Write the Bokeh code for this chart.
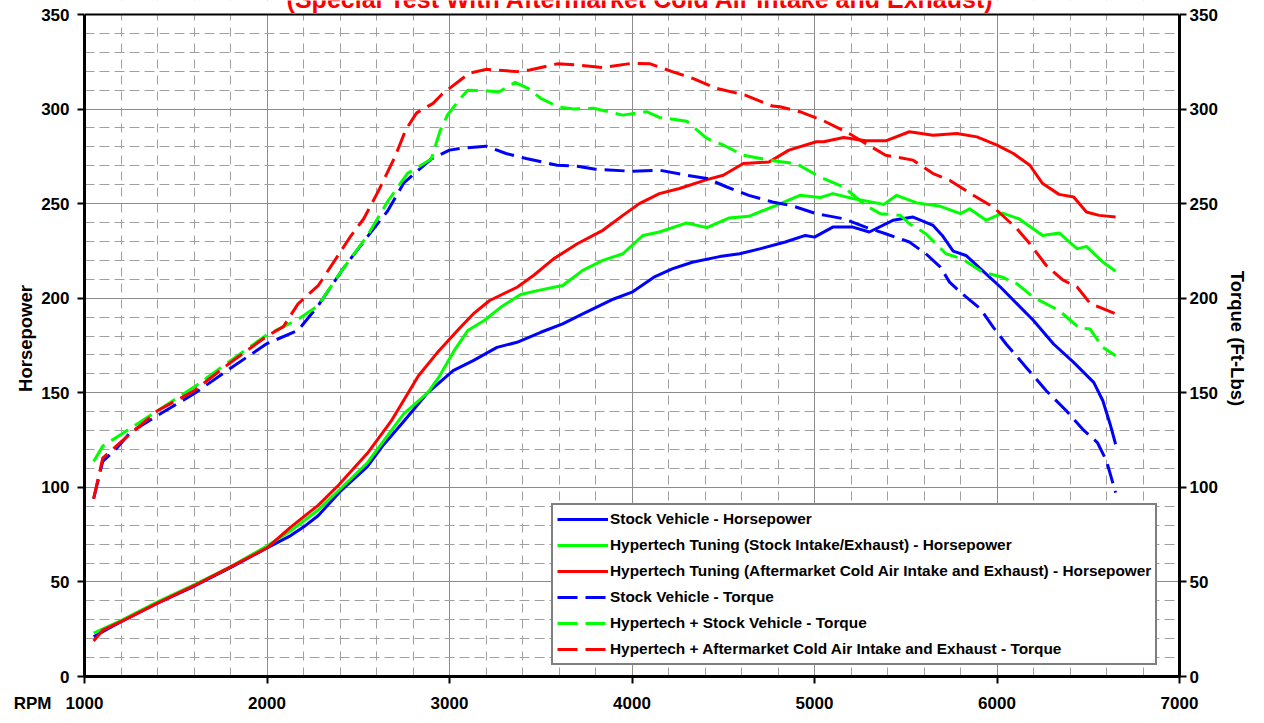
from bokeh.plotting import figure
from bokeh.models import (Range1d, LinearAxis, SingleIntervalTicker, Legend,
                          LegendItem, Label, BoxAnnotation, Span)
from bokeh.embed import file_html
from bokeh.resources import INLINE

# ---------------- data ----------------
stock_hp_rpm = [1050, 1200, 1400, 1600, 1800, 2000, 2130, 2200, 2280, 2400,
                2550, 2640, 2750, 2880, 3020, 3130, 3260, 3370, 3500, 3620,
                3730, 3900, 4000, 4120, 4220, 4330, 4480, 4590, 4700, 4840,
                4950, 5000, 5100, 5210, 5300, 5430, 5540, 5650, 5700, 5760,
                5830, 5940, 6020, 6110, 6200, 6310, 6420, 6530, 6580, 6620,
                6650]
stock_hp = [21, 29, 38.8, 47.7, 57.5, 68, 74.5, 79, 85, 97.7,
            111, 122.7, 135, 150, 161.7, 167, 174, 176.7, 182, 186.4,
            191.7, 199.6, 203.2, 211.1, 215.5, 219, 222, 223.5, 226.1, 229.7,
            233.2, 232.3, 237.6, 237.6, 235, 241.2, 242.9, 238.5, 233.2, 224.9,
            222.6, 212.9, 205.8, 197, 188.2, 175.8, 166.1, 155.5, 145.8, 133.4,
            122.8]

hyp_hp_rpm = [1050, 1200, 1400, 1600, 1800, 2000, 2130, 2280, 2400, 2550,
              2750, 2880, 2940, 3030, 3100, 3190, 3280, 3390, 3500, 3620,
              3730, 3840, 3950, 4060, 4150, 4300, 4410, 4530, 4640, 4790,
              4920, 5030, 5100, 5210, 5380, 5450, 5560, 5690, 5800, 5850,
              5940, 6030, 6120, 6250, 6340, 6440, 6490, 6580, 6650]
hyp_hp = [23, 29.5, 39.5, 48.5, 58, 69, 77, 88, 99, 113,
          139, 150, 158, 173, 182.9, 188.2, 195.2, 202, 204.4, 206.7,
          214.7, 220, 223.5, 233.2, 235, 239.8, 237.3, 242.4, 243.3, 249.1,
          254.4, 253.2, 255.3, 252.7, 249.6, 254.4, 250.4, 248.6, 244.7, 247.3,
          241.2, 245, 242, 233.2, 234.5, 226.1, 227.4, 219.1, 214.3]

cai_hp_rpm = [1050, 1100, 1200, 1400, 1600, 1800, 2000, 2130, 2280, 2390,
              2550, 2680, 2830, 2940, 3060, 3130, 3220, 3370, 3460, 3570,
              3700, 3840, 3950, 4040, 4150, 4260, 4410, 4500, 4610, 4750,
              4860, 5010, 5050, 5160, 5280, 5390, 5520, 5650, 5780, 5890,
              6000, 6090, 6180, 6250, 6340, 6420, 6490, 6560, 6650]
cai_hp = [18.8, 24.5, 29, 38.8, 48, 58, 68, 79, 90.5, 101,
          118, 135, 159, 172, 184.6, 191.7, 198.8, 205.8, 212, 220.8,
          228.8, 235.9, 243.8, 250, 255.3, 258, 262.7, 265, 271.2, 272,
          278.3, 282.7, 282.7, 285, 283.2, 283.2, 288, 286.2, 287.1, 285.3,
          280.9, 276.5, 270.3, 260.6, 254.9, 253.5, 245.6, 243.8, 242.9]

stock_tq_rpm = [1050, 1100, 1180, 1250, 1400, 1600, 1800, 2000, 2170, 2280,
                2420, 2550, 2660, 2750, 2900, 3000, 3060, 3200, 3310, 3420,
                3590, 3700, 3800, 4000, 4150, 4300, 4410, 4520, 4640, 4770,
                4880, 5010, 5060, 5160, 5280, 5390, 5520, 5610, 5690, 5740,
                5810, 5910, 5980, 6050, 6160, 6270, 6380, 6470, 6550, 6600,
                6650]
stock_tq = [94, 113.7, 121, 129, 138, 149.5, 163, 176, 183, 196,
            216, 232.5, 246, 261, 273.6, 278.3, 279.2, 280.4, 276.5, 273.9,
            270.3, 269.8, 268.2, 267.1, 267.7, 265, 263.3, 258.8, 254.4, 250.9,
            248.8, 244.7, 243.8, 242, 237.6, 234.1, 229.7, 223.5, 216.4, 208.5,
            202.3, 194.3, 184.6, 175.8, 163.4, 151.1, 140.5, 130.7, 123.7, 114,
            97.2]

hyp_tq_rpm = [1050, 1100, 1200, 1400, 1600, 1800, 2000, 2170, 2280, 2390,
              2550, 2660, 2770, 2900, 2950, 2990, 3060, 3100, 3200, 3270,
              3360, 3430, 3500, 3600, 3680, 3790, 3950, 4080, 4150, 4300,
              4410, 4500, 4610, 4750, 4900, 5030, 5160, 5280, 5360, 5470,
              5520, 5610, 5720, 5810, 5920, 6030, 6110, 6200, 6340, 6450,
              6510, 6580, 6650]
hyp_tq = [113.7, 121.8, 128, 140.5, 153, 167, 180.7, 188.8, 196, 212,
          233, 251, 266, 273.6, 288.9, 297, 305.6, 310, 309.7, 309,
          314.1, 311, 305.7, 301, 300, 300.4, 296.8, 298.6, 295.6, 293.6,
          284.5, 281, 275.6, 273, 271.2, 264.1, 258.8, 249.1, 244.7, 243.8,
          239.4, 234.1, 223.5, 220.8, 213.8, 211.1, 207.6, 200.5, 193.5, 184.3,
          183.7, 174, 169.6]

cai_tq_rpm = [1050, 1100, 1200, 1400, 1600, 1800, 2000, 2090, 2170, 2280,
              2390, 2460, 2530, 2610, 2700, 2760, 2820, 2910, 2960, 3060,
              3110, 3200, 3370, 3440, 3590, 3700, 3840, 4000, 4100, 4220,
              4330, 4460, 4620, 4770, 4810, 4920, 5050, 5190, 5280, 5390,
              5540, 5650, 5740, 5870, 5980, 6110, 6180, 6270, 6360, 6440,
              6510, 6650]
cai_tq = [94, 115.5, 124, 140.5, 151, 166, 180, 185, 197, 206.6,
          222.7, 233, 242, 256.6, 274.5, 289, 298, 303, 308, 315.4,
          319, 321, 319.8, 320.7, 323.9, 323.3, 321.9, 324.2, 323.9, 319.8,
          316.3, 311, 307.4, 301.6, 301.2, 298.6, 293.8, 287.1, 281.8, 275.6,
          273, 265.9, 262.4, 254.4, 248.2, 236.7, 228.8, 217.3, 209.7, 205.8,
          197.3, 191.7]

series_labels = [
    "Stock Vehicle - Horsepower",
    "Hypertech Tuning (Stock Intake/Exhaust) - Horsepower",
    "Hypertech Tuning (Aftermarket Cold Air Intake and Exhaust) - Horsepower",
    "Stock Vehicle - Torque",
    "Hypertech + Stock Vehicle - Torque",
    "Hypertech + Aftermarket Cold Air Intake and Exhaust - Torque",
]
title_text = "(Special Test With Aftermarket Cold Air Intake and Exhaust)"
x_label = "RPM"
y_label_left = "Horsepower"
y_label_right = "Torque (Ft-Lbs)"
x_min, x_max = 1000, 7000
y_min, y_max = 0, 350

# ---------------- figure ----------------
FONT = "Liberation Sans"
BLUE, GREEN, RED = "#0000FF", "#00FF00", "#FF0000"
TOP_PAD_PX = 14          # white band above the 350 line, where the title shows
FRAME_H = 676            # frame height in px (frame reaches the canvas top)
y_top = y_max + TOP_PAD_PX * (y_max - y_min) / (FRAME_H - TOP_PAD_PX)

p = figure(width=1256, height=715, output_backend="svg", toolbar_location=None,
           x_range=Range1d(x_min, x_max), y_range=Range1d(y_min, y_top),
           min_border_left=84, min_border_right=77, min_border_top=0,
           min_border_bottom=39)
p.background_fill_color = "white"
p.border_fill_color = "white"
p.outline_line_color = None

xt = SingleIntervalTicker(interval=1000, num_minor_ticks=5)
yt = SingleIntervalTicker(interval=50, num_minor_ticks=5)
p.xaxis.ticker = xt
p.yaxis.ticker = yt
p.xgrid.ticker = xt
p.ygrid.ticker = yt

for g, dash in ((p.xgrid, "9 7"), (p.ygrid, "10 5")):
    g.grid_line_color = "#8c8c8c"
    g.grid_line_width = 1
    g.minor_grid_line_color = "#a0a0a0"
    g.minor_grid_line_width = 1
    g.minor_grid_line_dash = dash

right_axis = LinearAxis(ticker=yt, axis_label=y_label_right)
p.add_layout(right_axis, "right")
p.yaxis[0].axis_label = y_label_left

for ax in (p.xaxis[0], p.yaxis[0], right_axis):
    ax.axis_line_color = "black"
    ax.axis_line_width = 3
    ax.major_tick_line_color = "black"
    ax.major_tick_line_width = 2
    ax.major_tick_out = 7
    ax.major_tick_in = 0
    ax.minor_tick_out = 0
    ax.minor_tick_in = 0
    ax.major_label_text_font = FONT
    ax.major_label_text_font_style = "bold"
    ax.major_label_text_font_size = "17px"
    ax.major_label_text_color = "black"
    ax.axis_label_text_font = FONT
    ax.axis_label_text_font_style = "bold"
    ax.axis_label_text_font_size = "18.5px"
    ax.axis_label_text_color = "black"

p.yaxis[0].bounds = (y_min, y_max)
right_axis.bounds = (y_min, y_max)

p.xaxis[0].major_label_standoff = 10
p.yaxis[0].major_label_standoff = 8
p.yaxis[0].axis_label_standoff = 2
right_axis.major_label_standoff = 3
right_axis.axis_label_standoff = 6

# "RPM" caption sits on the tick-label row, left of "1000" (non-breaking
# spaces keep "1000" centred on its tick)
NB = "\u00a0"
p.xaxis[0].major_label_overrides = {x_min: x_label + NB * 3 + str(x_min) + NB * 11}

series = [
    (stock_hp_rpm, stock_hp, BLUE, "solid"),
    (hyp_hp_rpm, hyp_hp, GREEN, "solid"),
    (cai_hp_rpm, cai_hp, RED, "solid"),
    (stock_tq_rpm, stock_tq, BLUE, "20 8"),
    (hyp_tq_rpm, hyp_tq, GREEN, "20 8"),
    (cai_tq_rpm, cai_tq, RED, "20 8"),
]
items = []
for (xs, ys, col, dash), lab in zip(series, series_labels):
    r = p.line(xs, ys, line_color=col, line_width=3, line_dash=dash,
               line_join="round")
    items.append(LegendItem(label=lab, renderers=[r]))

# white band above the top of the plotting area, then its black top edge
p.add_layout(BoxAnnotation(bottom=y_max, fill_color="white", fill_alpha=1.0,
                           line_color=None))
p.add_layout(Span(location=y_max, dimension="width", line_color="black",
                  line_width=2))

legend = Legend(items=items, location=(467, 11), orientation="vertical",
                label_text_font=FONT, label_text_font_style="bold",
                label_text_font_size="15.4px", label_text_color="black",
                glyph_width=51, glyph_height=20, label_height=20,
                label_standoff=2, spacing=6, padding=4, margin=0,
                border_line_color="black", border_line_width=2,
                background_fill_color="white", background_fill_alpha=1.0)
p.add_layout(legend)

# title, cut off by the top edge as in the reference
title = Label(x=556, y=677.6, x_units="screen", y_units="screen", text=title_text,
              text_align="center", text_baseline="alphabetic",
              text_font=FONT, text_font_style="bold", text_font_size="25px",
              text_color=RED)
p.add_layout(title)

open("out.html", "w").write(file_html(p, INLINE))
